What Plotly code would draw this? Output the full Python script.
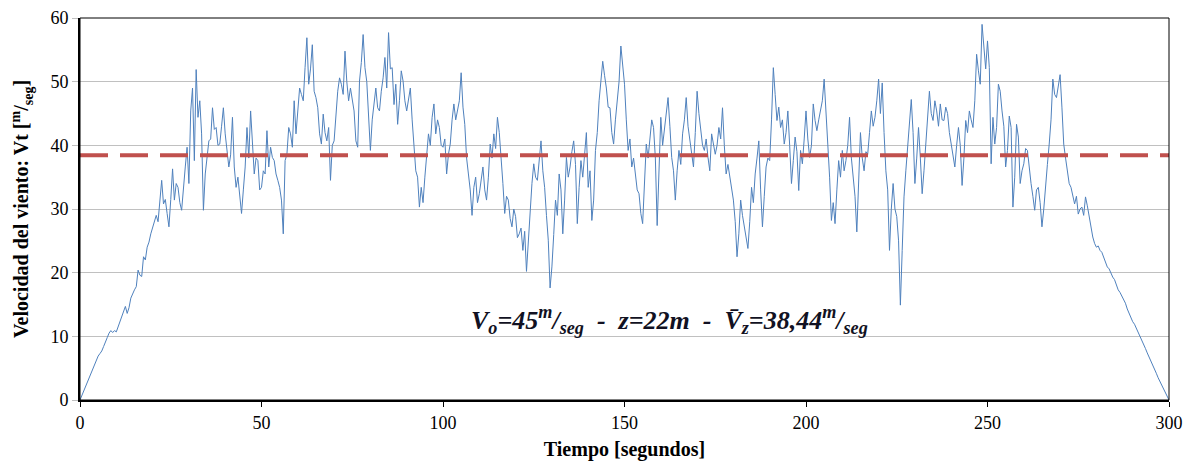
import plotly.graph_objects as go

# Velocidad del viento cada 0.5 s (m/seg)
vel_0_50 = [
    0.0, 0.7, 1.4, 2.2, 3.0, 3.6, 4.3, 5.0, 5.6, 6.3, 6.9, 7.3, 7.7, 8.4, 9.0, 9.8, 10.5, 10.9, 10.6, 10.9,
    10.7, 11.5, 12.6, 13.4, 14.2, 14.7, 13.6, 14.5, 16.0, 16.8, 17.3, 17.8, 20.4, 19.6, 19.4, 22.5, 22.0, 24.0, 24.8, 26.1,
    27.2, 28.2, 29.0, 28.0, 32.0, 34.5, 30.8, 31.5, 29.3, 27.2, 31.5, 36.3, 31.4, 34.0, 33.4, 31.0, 29.8, 34.0, 36.6, 39.7,
    34.0, 45.4, 49.0, 37.6, 51.9, 44.4, 47.0, 41.8, 29.8, 35.5, 38.0, 40.7, 41.0, 45.9, 42.5, 42.8, 40.0, 40.2, 43.0, 45.9,
    41.8, 39.0, 36.6, 38.5, 44.4, 36.6, 33.4, 35.0, 32.4, 29.3, 33.0, 36.6, 42.8, 38.0, 45.4, 40.0, 35.5, 38.0, 37.6, 33.0,
]
vel_50_100 = [
    33.4, 36.0, 35.5, 42.3, 36.6, 39.7, 38.1, 37.6, 35.5, 34.5, 33.4, 31.4, 26.1, 37.6, 38.6, 42.8, 41.8, 39.7, 47.0, 41.8,
    45.0, 49.0, 48.0, 47.0, 52.2, 56.9, 49.6, 52.0, 55.8, 48.5, 47.5, 45.9, 41.8, 40.2, 44.9, 42.0, 40.7, 42.8, 34.5, 40.0,
    40.7, 44.4, 48.5, 50.6, 49.6, 48.0, 54.8, 50.0, 47.0, 49.0, 47.0, 45.4, 40.7, 39.7, 50.1, 53.0, 57.4, 52.2, 50.0, 44.4,
    39.2, 44.0, 47.0, 49.0, 45.9, 45.4, 48.5, 50.6, 53.8, 49.0, 57.7, 52.0, 52.2, 46.4, 49.6, 43.3, 47.0, 51.7, 50.1, 47.0,
    45.4, 47.0, 49.0, 44.0, 39.2, 36.0, 35.0, 30.3, 33.4, 31.0, 35.0, 38.0, 41.8, 40.0, 44.4, 46.5, 41.8, 44.0, 42.8, 40.0,
]
vel_100_150 = [
    39.7, 41.0, 35.5, 38.6, 40.2, 44.0, 46.5, 44.0, 45.4, 47.0, 51.4, 46.0, 43.3, 38.0, 35.5, 33.0, 29.0, 33.4, 35.0, 31.0,
    32.4, 35.0, 36.6, 33.0, 31.4, 35.0, 40.2, 38.0, 41.8, 39.5, 44.4, 42.0, 38.6, 34.0, 29.3, 32.0, 31.4, 28.5, 27.2, 30.0,
    28.8, 25.5, 26.1, 27.0, 23.5, 26.5, 20.2, 25.1, 30.0, 34.0, 37.1, 35.0, 34.5, 38.0, 40.7, 36.0, 33.4, 29.0, 25.1, 17.6,
    20.9, 26.0, 31.4, 29.0, 35.5, 33.0, 26.1, 31.4, 38.1, 35.0, 36.6, 39.0, 40.7, 37.0, 27.7, 33.4, 37.6, 35.0, 39.2, 42.0,
    33.4, 36.0, 28.2, 31.4, 39.2, 42.0, 47.0, 50.0, 53.2, 51.0, 49.0, 46.0, 45.9, 42.0, 40.2, 44.0, 47.0, 50.0, 55.6, 52.0,
]
vel_150_200 = [
    49.6, 44.0, 39.2, 41.0, 36.6, 38.0, 35.5, 33.0, 32.4, 29.3, 27.7, 33.0, 40.2, 38.0, 40.7, 44.0, 42.8, 38.0, 27.4, 36.0,
    44.4, 40.0, 42.8, 45.0, 47.5, 43.0, 38.1, 36.0, 31.4, 36.0, 39.2, 37.0, 41.8, 44.0, 47.5, 43.0, 40.7, 38.0, 36.6, 42.0,
    48.5, 45.0, 42.8, 40.0, 39.2, 41.0, 38.1, 36.0, 41.8, 40.0, 38.6, 40.0, 42.8, 41.0, 45.9, 40.0, 35.5, 37.0, 35.0, 33.0,
    31.4, 28.0, 22.5, 26.1, 31.4, 29.0, 27.2, 25.0, 23.8, 28.0, 33.4, 31.0, 35.5, 38.0, 40.7, 33.0, 27.2, 32.0, 36.6, 38.0,
    37.6, 44.0, 52.2, 48.0, 43.9, 46.0, 42.8, 44.0, 40.2, 42.0, 45.4, 40.0, 34.0, 37.6, 41.3, 39.0, 32.9, 39.2, 37.1, 41.0,
]
vel_200_250 = [
    45.4, 41.0, 38.1, 40.0, 46.5, 43.9, 42.3, 44.0, 45.4, 47.0, 50.4, 46.0, 40.2, 35.0, 28.2, 31.0, 27.7, 33.0, 37.6, 35.0,
    39.2, 36.0, 37.6, 40.0, 44.4, 38.0, 35.0, 32.0, 26.4, 33.0, 42.0, 38.0, 36.0, 39.0, 38.6, 42.0, 45.4, 43.0, 44.4, 47.0,
    50.4, 45.0, 49.8, 42.0, 36.0, 33.0, 23.5, 30.0, 34.0, 30.0, 28.8, 25.0, 14.9, 23.5, 31.9, 36.0, 40.2, 43.0, 47.2, 42.0,
    34.0, 38.0, 42.8, 38.0, 32.4, 36.0, 40.2, 44.0, 48.5, 45.0, 43.9, 47.0, 45.4, 43.0, 46.5, 44.0, 43.9, 46.0, 45.0, 42.0,
    40.2, 38.0, 36.6, 40.0, 42.8, 40.0, 33.7, 38.0, 43.9, 42.0, 45.4, 44.0, 42.8, 47.0, 54.3, 51.7, 49.6, 59.0, 55.8, 52.0,
]
vel_250_300 = [
    56.4, 52.2, 37.1, 44.4, 40.2, 42.8, 49.6, 48.5, 45.4, 43.0, 36.6, 39.2, 44.6, 42.8, 30.3, 35.0, 43.3, 41.3, 34.0, 36.0,
    37.1, 39.5, 39.2, 36.0, 34.0, 32.0, 29.8, 33.0, 33.4, 31.0, 27.2, 30.0, 34.0, 37.0, 40.2, 44.0, 50.4, 48.0, 47.5, 49.0,
    51.1, 46.0, 40.2, 38.0, 36.0, 34.0, 33.4, 32.0, 30.8, 32.0, 29.2, 30.0, 30.3, 29.0, 31.9, 30.5, 28.8, 27.0, 25.6, 24.6,
    24.0, 24.2, 23.5, 23.2, 22.5, 21.8, 20.9, 20.6, 19.9, 19.3, 18.9, 18.0, 17.3, 16.9, 16.3, 15.6, 15.2, 14.3, 13.6, 13.0,
    12.3, 11.9, 11.3, 10.6, 10.0, 9.4, 8.7, 8.1, 7.4, 6.8, 6.1, 5.5, 4.8, 4.2, 3.5, 2.9, 2.2, 1.7, 1.1, 0.5,
    0.0,
]
velocidad = vel_0_50 + vel_50_100 + vel_100_150 + vel_150_200 + vel_200_250 + vel_250_300
paso = 0.5  # segundos entre muestras
v_media = 38.44

serif = "Liberation Serif"

fig = go.Figure()

fig.add_trace(go.Scatter(
    x0=0, dx=paso, y=velocidad,
    mode="lines",
    line=dict(color="#4F81BD", width=1),
    hoverinfo="skip",
))

# linea de velocidad media
fig.add_shape(
    type="line", xref="paper", x0=0, x1=1, yref="y", y0=v_media, y1=v_media,
    line=dict(color="#C0504D", width=4, dash="28px,12px"),
)
# marco del area de trazado
fig.add_shape(
    type="rect", xref="paper", yref="paper", x0=0, x1=1, y0=0, y1=1,
    line=dict(color="black", width=1),
)

fig.add_annotation(
    x=162.5, y=12.6, xref="x", yref="y", showarrow=False,
    text="<b><i>V<sub>o</sub>=45<sup>m</sup>/<sub>seg</sub>  -  z=22m  -  "
         "V\u0304<sub>z</sub>=38,44<sup>m</sup>/<sub>seg</sub></i></b>",
    font=dict(family=serif, size=26, color="#111122"),
)

# la pagina deja 8 px de margen en el body: se compensa aqui
fig.update_layout(
    width=1193, height=466,
    margin=dict(l=72, r=32, t=10, b=74),
    paper_bgcolor="white", plot_bgcolor="white",
    showlegend=False,
    font=dict(family=serif, size=18, color="black"),
    xaxis=dict(
        range=[0, 300], dtick=50, showgrid=False, zeroline=False, automargin=False,
        showline=True, linecolor="black", linewidth=2, ticklabeloverflow="allow",
        ticks="outside", ticklen=5, tickcolor="black",
        title=dict(text="<b>Tiempo [segundos]</b>", font=dict(family=serif, size=20), standoff=10),
    ),
    yaxis=dict(
        range=[0, 60], dtick=10, showgrid=True, gridcolor="#c0c0c0", gridwidth=1,
        zeroline=False, showline=True, linecolor="black", linewidth=2, automargin=False,
        ticklabeloverflow="allow",
        ticks="outside", ticklen=6, tickcolor="#c0c0c0",
        title=dict(text="<b>Velocidad del viento: Vt [<sup>m</sup>/<sub>seg</sub>]</b>",
                   font=dict(family=serif, size=20), standoff=16),
    ),
)

fig.write_html("out.html")
